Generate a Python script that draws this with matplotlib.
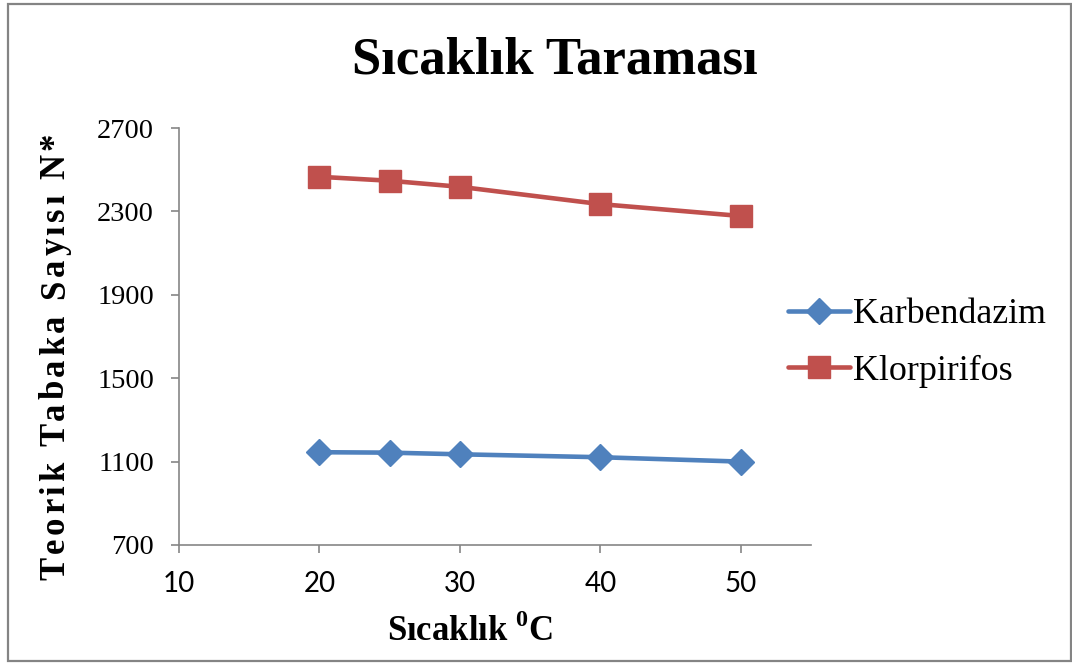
import matplotlib
matplotlib.use("Agg")
import matplotlib.pyplot as plt
from matplotlib.patches import Rectangle
from matplotlib import font_manager, ft2font
from matplotlib.font_manager import FontProperties

# Data
temperatures = [20, 25, 30, 40, 50]
karbendazim = [1145, 1143, 1135, 1121, 1100]
klorpirifos = [2466, 2447, 2418, 2335, 2278]
x_ticks = [10, 20, 30, 40, 50]
y_ticks = [700, 1100, 1500, 1900, 2300, 2700]

title_text = "Sıcaklık Taraması"
xlabel_text = r"Sıcaklık $^{\mathbf{0}}$C"
ylabel_text = "Teorik Tabaka Sayısı N*"

blue = "#4F81BD"
red = "#C0504D"
axis_gray = "#868686"

plt.rcParams["mathtext.fontset"] = "custom"
plt.rcParams["mathtext.rm"] = "Liberation Serif"
plt.rcParams["mathtext.bf"] = "Liberation Serif:bold"

W, H = 1072, 663
DPI = 100
fig = plt.figure(figsize=(W / DPI, H / DPI), dpi=DPI)
fig.patch.set_facecolor("white")


def px(x, y):
    return x / W, 1 - y / H


# Plot area
left, right, top, bottom = 179, 811, 128, 545
ax = fig.add_axes([left / W, 1 - bottom / H, (right - left) / W, (bottom - top) / H])

ax.plot(temperatures, karbendazim, color=blue, lw=3.3, marker="D", ms=12.8,
        mec=blue, mfc=blue, label="Karbendazim", solid_capstyle="round")
ax.plot(temperatures, klorpirifos, color=red, lw=3.3, marker="s", ms=16,
        mec=red, mfc=red, label="Klorpirifos", solid_capstyle="round")

ax.set_xlim(10, 55)
ax.set_ylim(700, 2700)
ax.set_xticks(x_ticks)
ax.set_yticks(y_ticks)

for s in ["top", "right"]:
    ax.spines[s].set_visible(False)
for s in ["left", "bottom"]:
    ax.spines[s].set_color(axis_gray)
    ax.spines[s].set_linewidth(1.2)

ax.tick_params(axis="both", direction="out", length=6, width=1.2, color=axis_gray)
ax.tick_params(axis="y", pad=12)
ax.tick_params(axis="x", pad=13)

for lbl in ax.get_yticklabels():
    lbl.set_fontfamily("Liberation Serif")
    lbl.set_fontsize(20.5)
    lbl.set_color("black")
for lbl in ax.get_xticklabels():
    lbl.set_fontfamily("Lato")
    lbl.set_fontsize(20)
    lbl.set_color("black")

# Title and x label
fig.text(*px(555, 61), title_text, ha="center", va="center",
         fontfamily="Liberation Serif", fontweight="bold", fontsize=38)
fig.text(*px(470, 632), xlabel_text, ha="center", va="center",
         fontfamily="Liberation Serif", fontweight="bold", fontsize=25)

# Y label with expanded letter spacing, laid out glyph by glyph upward
ylab_size = 25
ylab_props = FontProperties(family="Liberation Serif", weight="bold")
ft = ft2font.FT2Font(font_manager.findfont(ylab_props))
ft.set_size(ylab_size, DPI)
advances = [ft.load_char(ord(ch)).linearHoriAdvance / 65536 for ch in ylabel_text]
y_start, y_end = 580, 133
natural = sum(advances)
tracking = (y_start - y_end - natural) / (len(ylabel_text) - 1)
ypos = y_start
for ch, adv in zip(ylabel_text, advances):
    if ch != " ":
        fig.text(*px(64, ypos), ch, rotation=90, rotation_mode="anchor",
                 ha="left", va="baseline", fontproperties=ylab_props,
                 fontsize=ylab_size)
    ypos -= adv + tracking

# Legend
leg = fig.legend(loc="center left", bbox_to_anchor=px(788, 343), frameon=False,
                 prop={"family": "Liberation Serif", "size": 25.8},
                 handlelength=1.72, handletextpad=0.1, labelspacing=0.66,
                 borderpad=0, borderaxespad=0)

# Chart border
fig.patches.append(Rectangle(px(8, 661), (1071 - 8) / W, (661 - 4) / H,
                             transform=fig.transFigure, fill=False,
                             edgecolor="#848484", linewidth=1.6))

fig.savefig("out.png", dpi=DPI)
